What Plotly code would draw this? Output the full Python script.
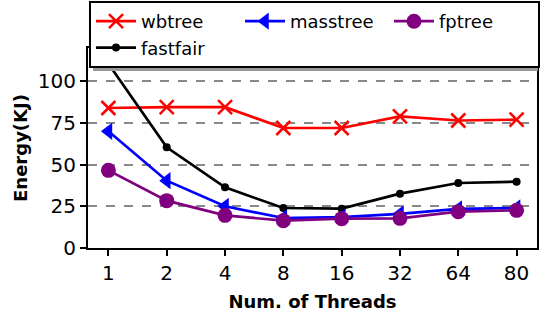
import plotly.graph_objects as go

threads = ["1", "2", "4", "8", "16", "32", "64", "80"]
wbtree = [84, 84.5, 84.5, 72, 72, 79, 76.5, 77]
fastfair = [110.6, 60.4, 36.4, 24, 23.6, 32.6, 39, 39.8]
masstree = [70, 40.4, 25, 18, 18.5, 20.5, 23.5, 24]
fptree = [46.6, 28.4, 19.6, 16.4, 17.6, 17.8, 21.8, 22.6]
yticks = [0, 25, 50, 75, 100]

FONT = "DejaVu Sans"

fig = go.Figure()
fig.add_trace(go.Scatter(x=threads, y=wbtree, name="wbtree", mode="lines+markers",
                         line=dict(color="red", width=2.7), legendrank=1,
                         marker=dict(symbol="x-thin-open", size=14, color="red",
                                     line=dict(color="red", width=2.5))))
fig.add_trace(go.Scatter(x=threads, y=fastfair, name="fastfair", mode="lines+markers",
                         line=dict(color="black", width=2.7), legendrank=4,
                         marker=dict(symbol="circle", size=8, color="black")))
fig.add_trace(go.Scatter(x=threads, y=masstree, name="masstree", mode="lines+markers",
                         line=dict(color="blue", width=2.7), legendrank=2,
                         marker=dict(symbol="triangle-left", size=15, color="blue")))
fig.add_trace(go.Scatter(x=threads, y=fptree, name="fptree", mode="lines+markers",
                         line=dict(color="purple", width=2.7), legendrank=3,
                         marker=dict(symbol="circle", size=15, color="purple")))

# legend shadow
fig.add_shape(type="rect", xref="paper", yref="paper",
              x0=(93 - 88) / 449, x1=(538 - 88) / 449,
              y0=(248 - 71) / 200, y1=(248 - 8) / 200,
              fillcolor="#999999", line=dict(width=0), layer="above")

fig.update_layout(
    width=540, height=312,
    margin=dict(l=88, r=3, t=48, b=64, autoexpand=False),
    paper_bgcolor="white", plot_bgcolor="white",
    font=dict(family=FONT, size=20, color="black"),
    legend=dict(orientation="h", x=(89 - 88) / 449, xanchor="left",
                y=(248 - 1) / 200, yanchor="top",
                bgcolor="white", bordercolor="black", borderwidth=2,
                font=dict(family=FONT, size=18, color="black"),
                entrywidth=94, traceorder="normal", itemwidth=40),
    xaxis=dict(type="category", range=[-0.35, 7.35],
               showline=True, linecolor="black", linewidth=2, mirror=True,
               ticks="outside", ticklen=6, tickwidth=1.5, tickcolor="black",
               showgrid=False, zeroline=False,
               title=dict(text="<b>Num. of Threads</b>", font=dict(size=18), standoff=12)),
    yaxis=dict(range=[0, 120], tickvals=yticks,
               showline=True, linecolor="black", linewidth=2, mirror=True,
               ticks="outside", ticklen=6, tickwidth=1.5, tickcolor="black",
               showgrid=True, gridcolor="#888888", griddash="dash", gridwidth=1.5,
               zeroline=False,
               title=dict(text="<b>Energy(KJ)</b>", font=dict(size=18), standoff=6)),
)

fig.write_html("out.html", config={"displayModeBar": False},
               post_script="document.body.style.margin='0';document.body.style.padding='0';")
